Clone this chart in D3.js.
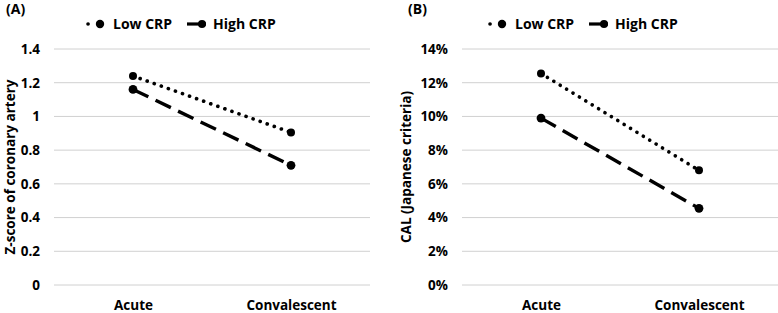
<!DOCTYPE html>
<html>
<head>
<meta charset="utf-8">
<script src="https://cdn.jsdelivr.net/npm/d3@7"></script>
<style>
  body { margin: 0; background: #fff; }
  svg text { font-family: "Open Sans", "Noto Sans", sans-serif; font-weight: bold; fill: #000; }
</style>
</head>
<body>
<div id="chart"></div>
<script>
// Data
const phases = ["Acute", "Convalescent"];
const seriesNames = ["Low CRP", "High CRP"];
const zLow = [1.24, 0.905];
const zHigh = [1.16, 0.71];
const zTicks = [0, 0.2, 0.4, 0.6, 0.8, 1, 1.2, 1.4];
const calLow = [0.1255, 0.068];
const calHigh = [0.099, 0.0455];
const calTicks = [0, 0.02, 0.04, 0.06, 0.08, 0.10, 0.12, 0.14];

const W = 778, H = 313;
const svg = d3.select("#chart").append("svg")
  .attr("width", W).attr("height", H);

function panel(opts) {
  const g = svg.append("g").attr("transform", `translate(${opts.left},0)`);
  const plotW = 316;

  const x = d3.scalePoint().domain(phases).range([opts.gridX, opts.gridX + plotW]).padding(0.5);
  const y = d3.scaleLinear().domain([0, opts.max]).range([285, 49]);

  // Gridlines
  g.selectAll(".grid")
    .data(opts.ticks)
    .join("line")
      .attr("x1", opts.gridX).attr("x2", opts.gridX + plotW)
      .attr("y1", d => y(d)).attr("y2", d => y(d))
      .attr("stroke", "#d0d0d0").attr("stroke-width", 1);

  // Y axis labels
  const yAxis = d3.axisLeft(y).tickValues(opts.ticks).tickFormat(opts.fmt).tickSize(0).tickPadding(0);
  const ya = g.append("g").attr("transform", `translate(${opts.gridX - 14},0)`).call(yAxis);
  ya.select(".domain").remove();
  ya.selectAll("text").style("font-size", "13.5px").attr("font-family", null);

  // X axis labels
  const xa = g.append("g").attr("transform", "translate(0,300)")
    .call(d3.axisBottom(x).tickSize(0).tickPadding(0));
  xa.select(".domain").remove();
  xa.selectAll("text").style("font-size", "13.5px").attr("dy", "0.71em").attr("font-family", null);

  const line = d3.line().x((d, i) => x(phases[i])).y(d => y(d));

  // Low CRP: dotted
  g.append("path").datum(opts.low)
    .attr("d", line).attr("fill", "none").attr("stroke", "#000")
    .attr("stroke-width", 3.6).attr("stroke-linecap", "round")
    .attr("stroke-dasharray", "0.1 7.4");
  g.selectAll(".lowpt").data(opts.low).join("circle")
    .attr("cx", (d, i) => x(phases[i])).attr("cy", d => y(d)).attr("r", 4).attr("fill", "#000");

  // High CRP: long dash
  g.append("path").datum(opts.high)
    .attr("d", line).attr("fill", "none").attr("stroke", "#000")
    .attr("stroke-width", 3.4).attr("stroke-dasharray", "17 8");
  g.selectAll(".highpt").data(opts.high).join("circle")
    .attr("cx", (d, i) => x(phases[i])).attr("cy", d => y(d)).attr("r", 4.4).attr("fill", "#000");

  // Panel tag
  g.append("text").attr("x", opts.tagX).attr("y", 14).style("font-size", "14px").text(opts.tag);

  // Y axis title
  g.append("text")
    .attr("transform", `translate(${opts.titleX},167) rotate(-90)`)
    .attr("text-anchor", "middle").attr("dy", "0.35em")
    .style("font-size", "13.5px").text(opts.title);

  // Legend
  const lg = g.append("g").attr("transform", `translate(${opts.legendX},24)`);
  lg.append("line").attr("x1", 2).attr("x2", 8).attr("stroke", "#000")
    .attr("stroke-width", 3.6).attr("stroke-linecap", "round").attr("stroke-dasharray", "0.1 7.4");
  lg.append("circle").attr("cx", 14).attr("r", 4.2).attr("fill", "#000");
  lg.append("text").attr("x", 27).attr("dy", "0.35em").style("font-size", "14px").text(seriesNames[0]);
  lg.append("line").attr("x1", 101).attr("x2", 120).attr("stroke", "#000").attr("stroke-width", 3.2);
  lg.append("circle").attr("cx", 116).attr("r", 4).attr("fill", "#000");
  lg.append("text").attr("x", 127).attr("dy", "0.35em").style("font-size", "14px").text(seriesNames[1]);
}

panel({ left: 0, gridX: 54, max: 1.4, ticks: zTicks, fmt: d => d3.format("")(+d.toFixed(1)),
        low: zLow, high: zHigh, tag: "(A)", tagX: 6, title: "Z-score of coronary artery",
        titleX: 10, legendX: 86 });
panel({ left: 408, gridX: 54, max: 0.14, ticks: calTicks, fmt: d3.format(".0%"),
        low: calLow, high: calHigh, tag: "(B)", tagX: 0, title: "CAL (Japanese criteria)",
        titleX: -2, legendX: 80 });
</script>
</body>
</html>
